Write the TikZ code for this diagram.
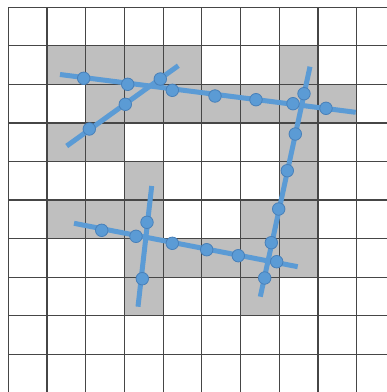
\documentclass[tikz,border=0pt]{standalone}
\definecolor{cellgrey}{RGB}{191,191,191}
\definecolor{gridline}{RGB}{70,70,70}
\definecolor{lineblue}{RGB}{91,155,213}
\definecolor{dotedge}{RGB}{72,128,185}
\tikzset{
  cell/.style={fill=cellgrey, draw=none},
  gridstroke/.style={draw=gridline, line width=1.2pt},
  bluebar/.style={draw=lineblue, line width=5pt},
  dot/.style={circle, fill=lineblue, draw=dotedge, line width=0.8pt, minimum size=12.5pt, inner sep=0pt}
}
\begin{document}
\begin{tikzpicture}[x=1pt,y=-1pt]
\useasboundingbox (0,0) rectangle (387,392);
\fill[white] (0,0) rectangle (387,392);
% grey cells (col,row)
\foreach \c/\r in {1/1,2/1,3/1,4/1,7/1,
                   2/2,3/2,4/2,5/2,6/2,7/2,8/2,
                   1/3,2/3,7/3,
                   3/4,7/4,
                   1/5,2/5,3/5,6/5,7/5,
                   3/6,4/6,5/6,6/6,7/6,
                   3/7,6/7}{
  \path[cell] ({8.3+38.7*\c},{7.3+38.55*\r}) rectangle ({8.3+38.7*(\c+1)},{7.3+38.55*(\r+1)});
}
% grid
\foreach \k in {0,...,9}{
  \draw[gridstroke] ({8.3+38.7*\k},7.3) -- ({8.3+38.7*\k},392);
  \draw[gridstroke] (8.3,{7.3+38.55*\k}) -- (387,{7.3+38.55*\k});
}
% line endpoints
\coordinate (a0) at (60,74.5);
\coordinate (a1) at (355.7,112.3);
\coordinate (b0) at (66.7,146);
\coordinate (b1) at (178.3,65.7);
\coordinate (c0) at (310,66.7);
\coordinate (c1) at (260.3,296.7);
\coordinate (d0) at (74,223.3);
\coordinate (d1) at (297.7,266.7);
\coordinate (e0) at (151.7,186);
\coordinate (e1) at (138,306.7);
\draw[bluebar] (a0) -- (a1);
\draw[bluebar] (b0) -- (b1);
\draw[bluebar] (c0) -- (c1);
\draw[bluebar] (d0) -- (d1);
\draw[bluebar] (e0) -- (e1);
% dots
\node[dot] (a2) at (83.7,78.3) {};
\node[dot] (a3) at (127.7,84.3) {};
\node[dot] (a4) at (172.3,90.3) {};
\node[dot] (a5) at (215,96) {};
\node[dot] (a6) at (256,99.7) {};
\node[dot] (a7) at (293,103.7) {};
\node[dot] (a8) at (326,108.3) {};
\node[dot] (b2) at (89.3,129) {};
\node[dot] (b3) at (125.3,104.3) {};
\node[dot] (b4) at (160.3,79) {};
\node[dot] (c2) at (304,93.7) {};
\node[dot] (c3) at (295.3,134) {};
\node[dot] (c4) at (287.3,170.7) {};
\node[dot] (c5) at (278.7,209) {};
\node[dot] (c6) at (271.3,242.7) {};
\node[dot] (c7) at (264.7,278) {};
\node[dot] (d2) at (101.7,230.3) {};
\node[dot] (d3) at (136,236.3) {};
\node[dot] (d4) at (172.3,243.3) {};
\node[dot] (d5) at (206.7,249.7) {};
\node[dot] (d6) at (238.3,255.7) {};
\node[dot] (d7) at (276.7,261.7) {};
\node[dot] (e2) at (147,222.3) {};
\node[dot] (e3) at (142.3,278.7) {};
\end{tikzpicture}
\end{document}
